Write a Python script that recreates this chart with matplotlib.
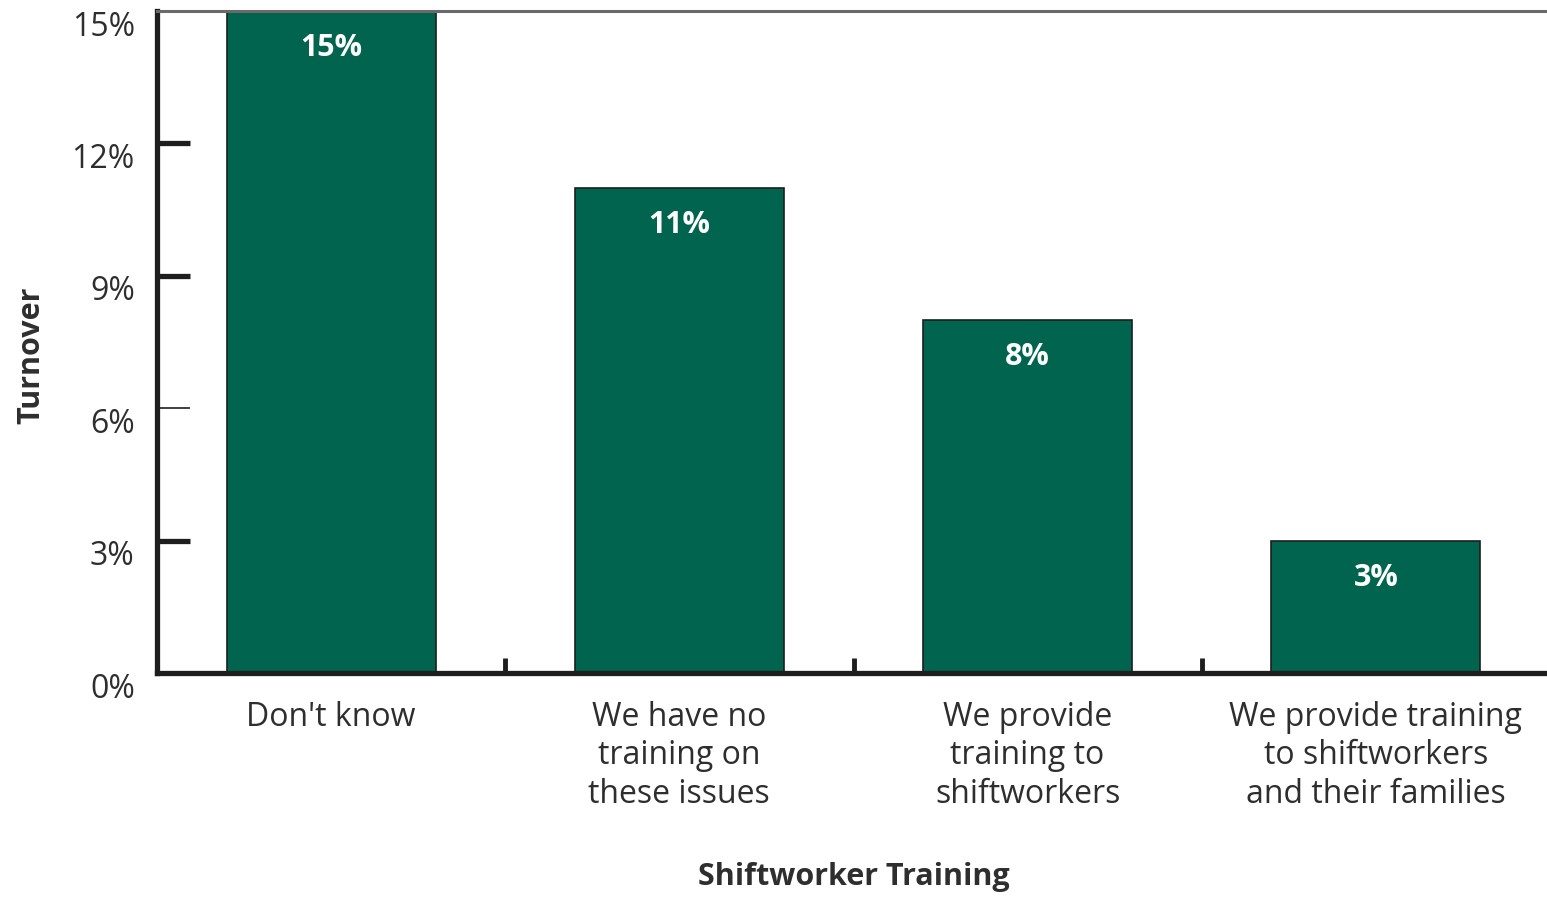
import matplotlib
matplotlib.use("Agg")
import matplotlib.pyplot as plt
import matplotlib.transforms as mtransforms

categories = [
    "Don't know",
    "We have no\ntraining on\nthese issues",
    "We provide\ntraining to\nshiftworkers",
    "We provide training\nto shiftworkers\nand their families",
]
turnover = [15, 11, 8, 3]
value_labels = ["15%", "11%", "8%", "3%"]
y_ticks = [0, 3, 6, 9, 12, 15]
y_tick_labels = ["0%", "3%", "6%", "9%", "12%", "15%"]

plt.rcParams["font.family"] = ["Open Sans", "DejaVu Sans"]
GREEN = "#00644f"
TEXT = "#2e2e2e"
DPI = 100

fig = plt.figure(figsize=(15.47, 8.98), dpi=DPI)
ax = fig.add_axes([157 / 1547, 1 - 673 / 898, (1550 - 157) / 1547, (673 - 11) / 898])

x = list(range(len(categories)))
bars = ax.bar(x, turnover, width=0.6, color=GREEN, edgecolor="#1e1e1e", linewidth=1.2, zorder=2)

ax.set_xlim(-0.5, 3.5)
ax.set_ylim(0, 15)

# value labels inside the bars
for xi, v, lab in zip(x, turnover, value_labels):
    ax.annotate(lab, (xi, v), xytext=(0, -27), textcoords="offset points",
                ha="center", va="center", color="white", fontsize=22, fontweight="bold")

# spines
for s in ("left", "bottom"):
    ax.spines[s].set_linewidth(3.8)
    ax.spines[s].set_color("#1e1e1e")
ax.spines["top"].set_linewidth(2.2)
ax.spines["top"].set_color("#6a6a6a")
ax.spines["right"].set_visible(False)

# y ticks drawn inward; labels shifted below the tick line
ax.set_yticks(y_ticks)
ax.set_yticklabels(y_tick_labels, fontsize=23, color=TEXT)
ax.tick_params(axis="y", direction="in", length=24, width=3.8, color="#1e1e1e", pad=16)
for t in ax.yaxis.get_major_ticks():
    if t.get_loc() == 6:
        t.tick1line.set_markeredgewidth(1.2)
    if t.get_loc() in (0, 15):
        t.tick1line.set_visible(False)
offset = mtransforms.ScaledTranslation(0, -12 / DPI, fig.dpi_scale_trans)
for lab in ax.get_yticklabels():
    lab.set_transform(lab.get_transform() + offset)

# x: category labels at bar centers, short inward ticks at category boundaries
ax.set_xticks(x)
ax.set_xticklabels(categories, fontsize=23, color=TEXT, linespacing=1.22)
ax.tick_params(axis="x", length=0, pad=20)
ax.set_xticks([0.5, 1.5, 2.5], minor=True)
ax.tick_params(axis="x", which="minor", direction="in", length=11, width=3.5, color="#1e1e1e")

ax.set_xlabel("Shiftworker Training", fontsize=22, fontweight="bold", color=TEXT, labelpad=37)
ax.set_ylabel("Turnover", fontsize=22, fontweight="bold", color=TEXT, labelpad=18)
ax.yaxis.label.set_position((0, 0.48))

fig.savefig("out.png", dpi=DPI)
